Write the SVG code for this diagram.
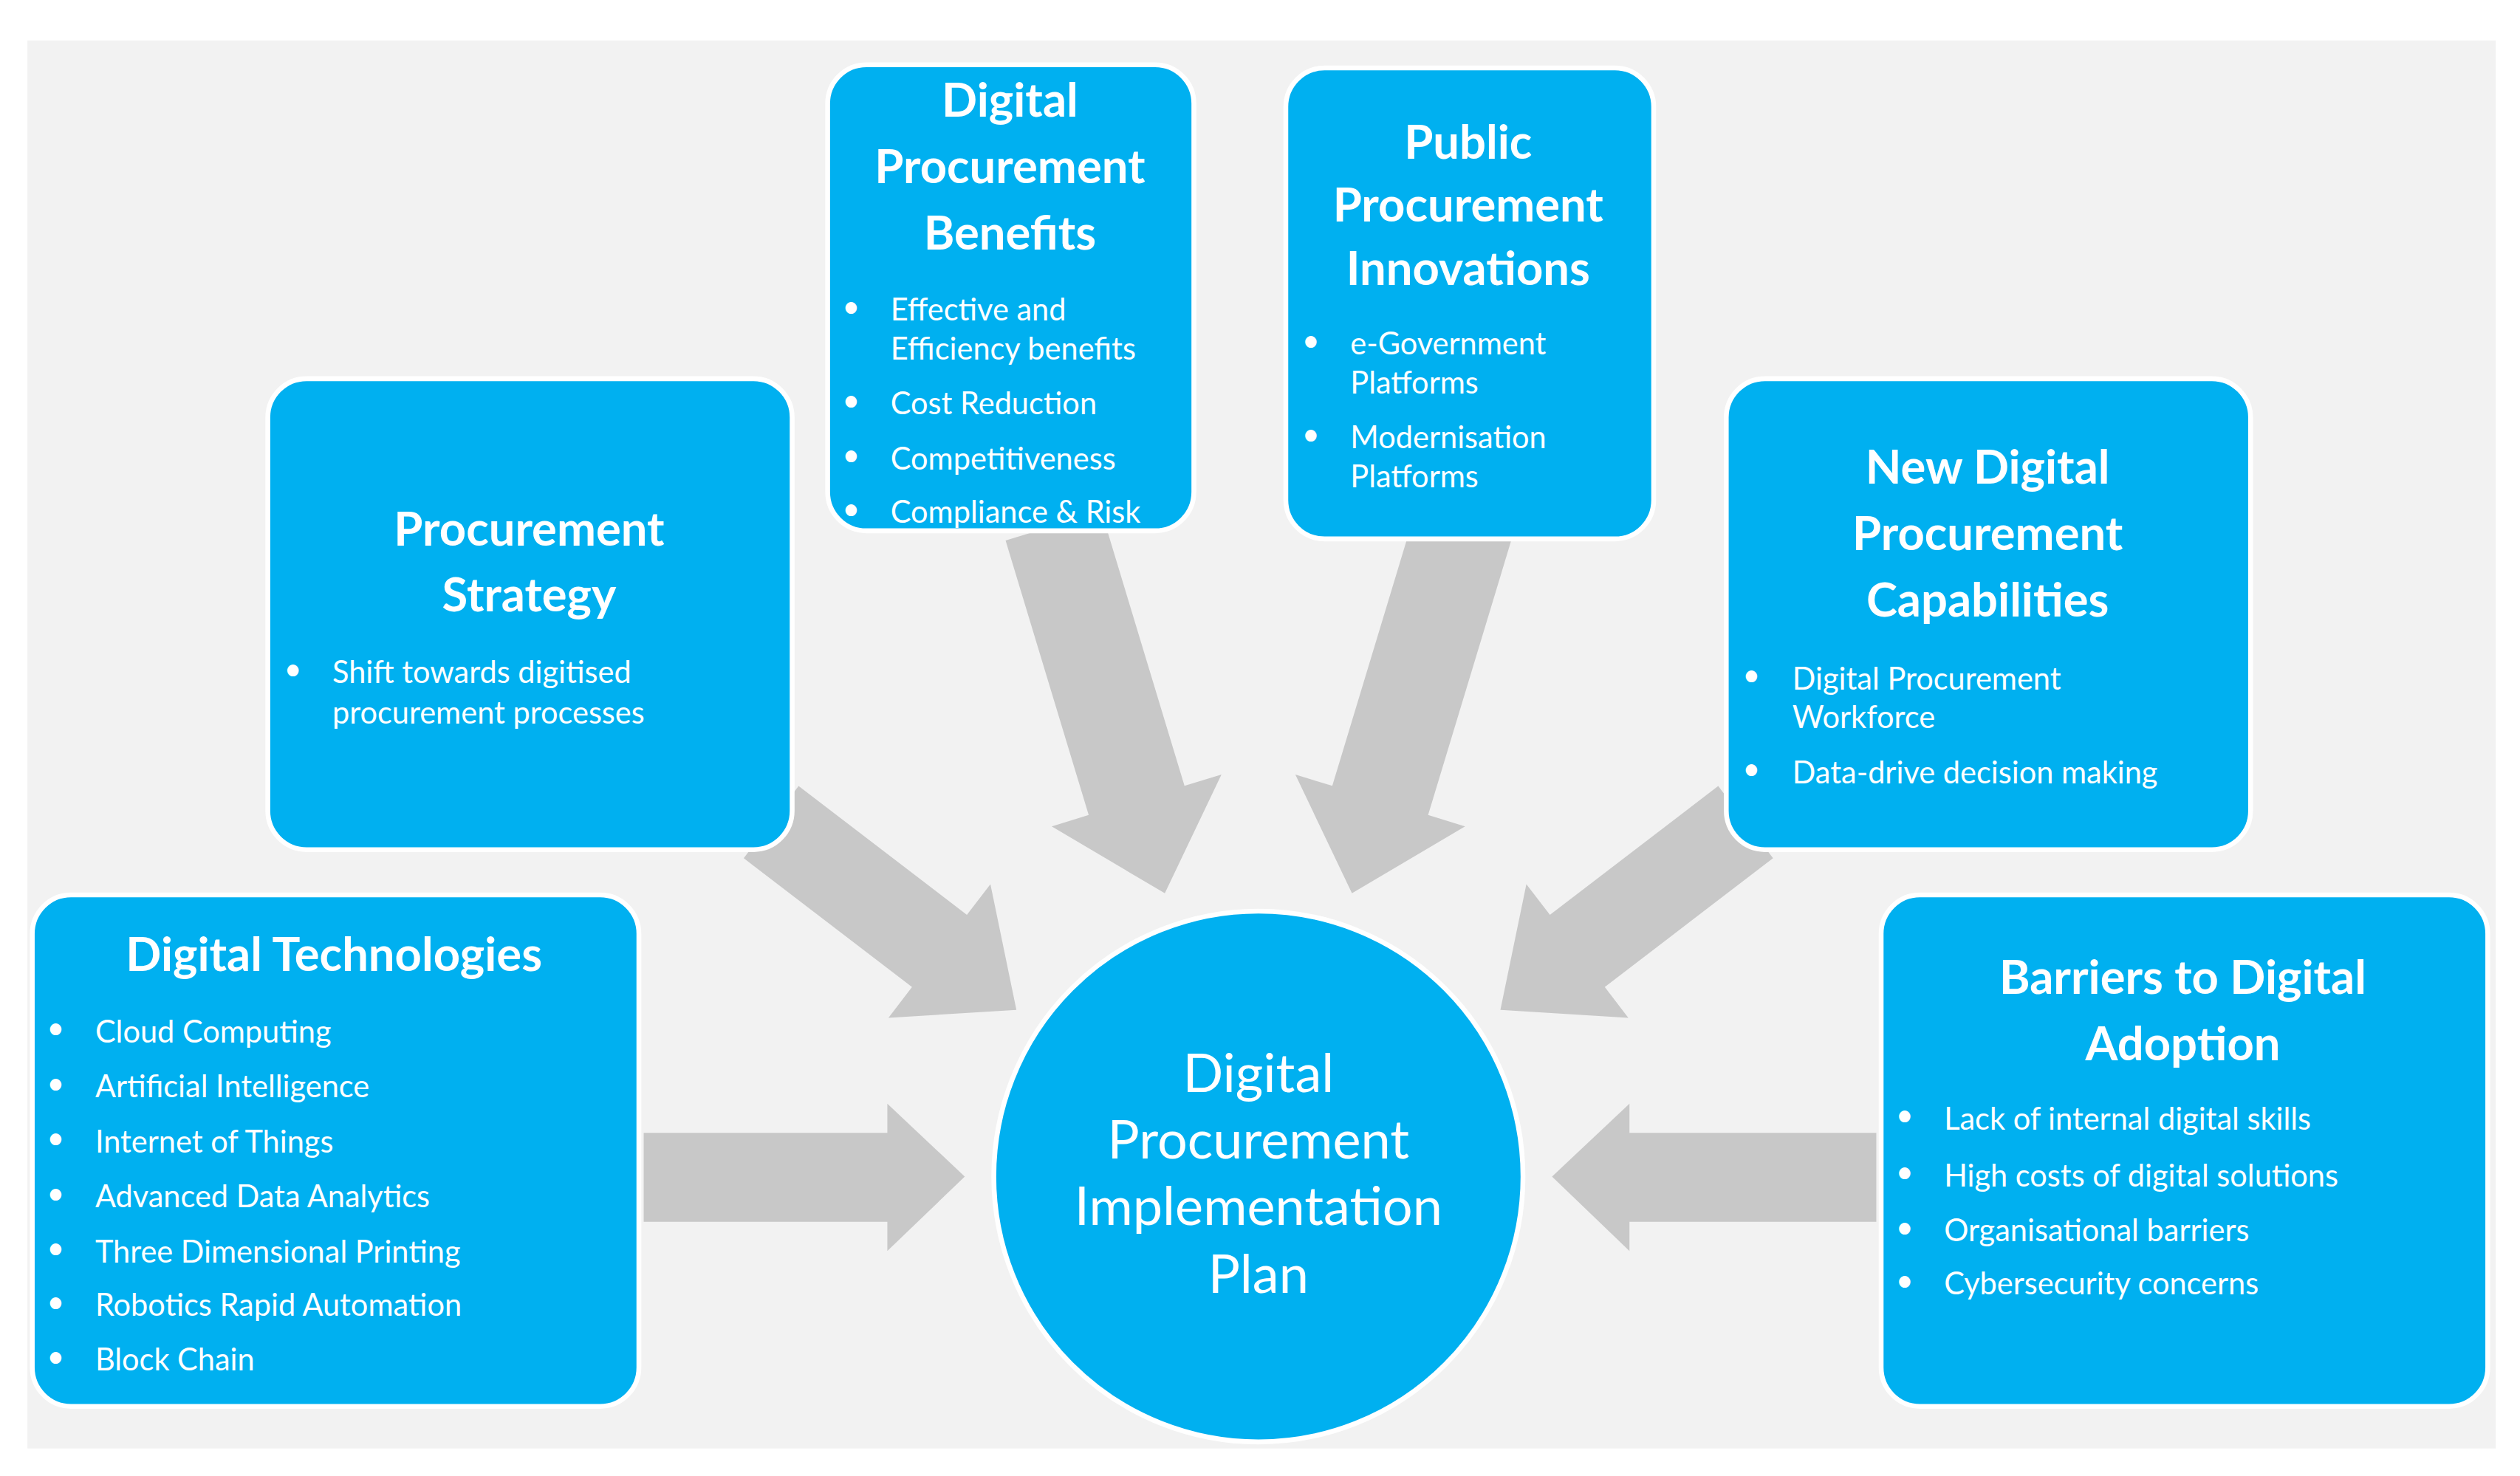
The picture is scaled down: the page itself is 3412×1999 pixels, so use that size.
<svg xmlns="http://www.w3.org/2000/svg" width="3412" height="1999" viewBox="0 0 3412 1999">
<style>
.box{fill:#00b0f0;stroke:#ffffff;stroke-width:3}
.arr{fill:#c8c8c8}
.t{font-family:Lato,"Open Sans","Liberation Sans",sans-serif;font-weight:bold;font-size:29px;fill:#fff;text-anchor:middle}
.b{font-family:Lato,"Open Sans","Liberation Sans",sans-serif;font-size:19px;fill:#fff}
.c{font-family:Lato,"Open Sans","Liberation Sans",sans-serif;font-size:33px;fill:#fff;text-anchor:middle}
</style>
<rect width="3412" height="1999" fill="#fff"/>
<g transform="scale(2.1844,2.1918)">
<rect x="17" y="25" width="1530" height="870" fill="#f2f2f2"/>
<g id="connectors">
<polygon class="arr" points="495,485.7 599.3,565.3 613.9,546.3 630,624 550.7,628.9 565.3,609.9 461,530.3"/>
<polygon class="arr" points="1065,485.7 960.7,565.3 946.1,546.3 930,624 1009.3,628.9 994.7,609.9 1099,530.3"/>
<polygon class="arr" points="682.7,316 734.2,485.6 757.1,478.6 722,552 651.9,510.6 674.8,503.6 623.3,334"/>
<polygon class="arr" points="877.3,316 825.8,485.6 802.9,478.6 838,552 908.1,510.6 885.2,503.6 936.7,334"/>
<polygon class="arr" points="399,700 550,700 550,682 598,727 550,773 550,755 399,755"/>
<polygon class="arr" points="1163,700 1010,700 1010,682 962,727 1010,773 1010,755 1163,755"/>
</g>
<g id="benefits">
<rect class="box" x="513" y="40" width="227" height="288" rx="24"/>
<text class="t" x="626" y="72">Digital</text><text class="t" x="626" y="113">Procurement</text><text class="t" x="626" y="154">Benefits</text>
<text class="b" x="522" y="196">•</text><text class="b" x="552" y="198">Effective and</text><text class="b" x="552" y="222">Efficiency benefits</text>
<text class="b" x="522" y="254">•</text><text class="b" x="552" y="256">Cost Reduction</text>
<text class="b" x="522" y="288">•</text><text class="b" x="552" y="290">Competitiveness</text>
<text class="b" x="522" y="321">•</text><text class="b" x="552" y="323">Compliance &amp; Risk</text>
</g>
<g id="innovations">
<rect class="box" x="797" y="42" width="228" height="291" rx="24"/>
<text class="t" x="910" y="98">Public</text><text class="t" x="910" y="137">Procurement</text><text class="t" x="910" y="176">Innovations</text>
<text class="b" x="807" y="217">•</text><text class="b" x="837" y="219">e-Government</text><text class="b" x="837" y="243">Platforms</text>
<text class="b" x="807" y="275">•</text><text class="b" x="837" y="277">Modernisation</text><text class="b" x="837" y="301">Platforms</text>
</g>
<g id="strategy">
<rect class="box" x="166" y="234" width="325" height="291" rx="24"/>
<text class="t" x="328" y="337">Procurement</text><text class="t" x="328" y="378">Strategy</text>
<text class="b" x="176" y="420">•</text><text class="b" x="206" y="422">Shift towards digitised</text><text class="b" x="206" y="447">procurement processes</text>
</g>
<g id="capabilities">
<rect class="box" x="1070" y="234" width="325" height="291" rx="24"/>
<text class="t" x="1232" y="299">New Digital</text><text class="t" x="1232" y="340">Procurement</text><text class="t" x="1232" y="381">Capabilities</text>
<text class="b" x="1080" y="424">•</text><text class="b" x="1111" y="426">Digital Procurement</text><text class="b" x="1111" y="450">Workforce</text>
<text class="b" x="1080" y="482">•</text><text class="b" x="1111" y="484">Data-drive decision making</text>
</g>
<g id="technologies">
<rect class="box" x="20" y="553" width="376" height="316" rx="24"/>
<text class="t" x="207" y="600">Digital Technologies</text>
<text class="b" x="29" y="642">•</text><text class="b" x="59" y="644">Cloud Computing</text>
<text class="b" x="29" y="676">•</text><text class="b" x="59" y="678">Artificial Intelligence</text>
<text class="b" x="29" y="710">•</text><text class="b" x="59" y="712">Internet of Things</text>
<text class="b" x="29" y="744">•</text><text class="b" x="59" y="746">Advanced Data Analytics</text>
<text class="b" x="29" y="778">•</text><text class="b" x="59" y="780">Three Dimensional Printing</text>
<text class="b" x="29" y="811">•</text><text class="b" x="59" y="813">Robotics Rapid Automation</text>
<text class="b" x="29" y="845">•</text><text class="b" x="59" y="847">Block Chain</text>
</g>
<g id="barriers">
<rect class="box" x="1166" y="553" width="376" height="316" rx="24"/>
<text class="t" x="1353" y="614">Barriers to Digital</text><text class="t" x="1353" y="655">Adoption</text>
<text class="b" x="1175" y="696">•</text><text class="b" x="1205" y="698">Lack of internal digital skills</text>
<text class="b" x="1175" y="731">•</text><text class="b" x="1205" y="733">High costs of digital solutions</text>
<text class="b" x="1175" y="765">•</text><text class="b" x="1205" y="767">Organisational barriers</text>
<text class="b" x="1175" y="798">•</text><text class="b" x="1205" y="800">Cybersecurity concerns</text>
</g>
<g id="plan">
<circle class="box" cx="780" cy="727" r="164"/>
<text class="c" x="780" y="675">Digital</text><text class="c" x="780" y="716">Procurement</text><text class="c" x="780" y="757">Implementation</text><text class="c" x="780" y="799">Plan</text>
</g>
</g>
</svg>
